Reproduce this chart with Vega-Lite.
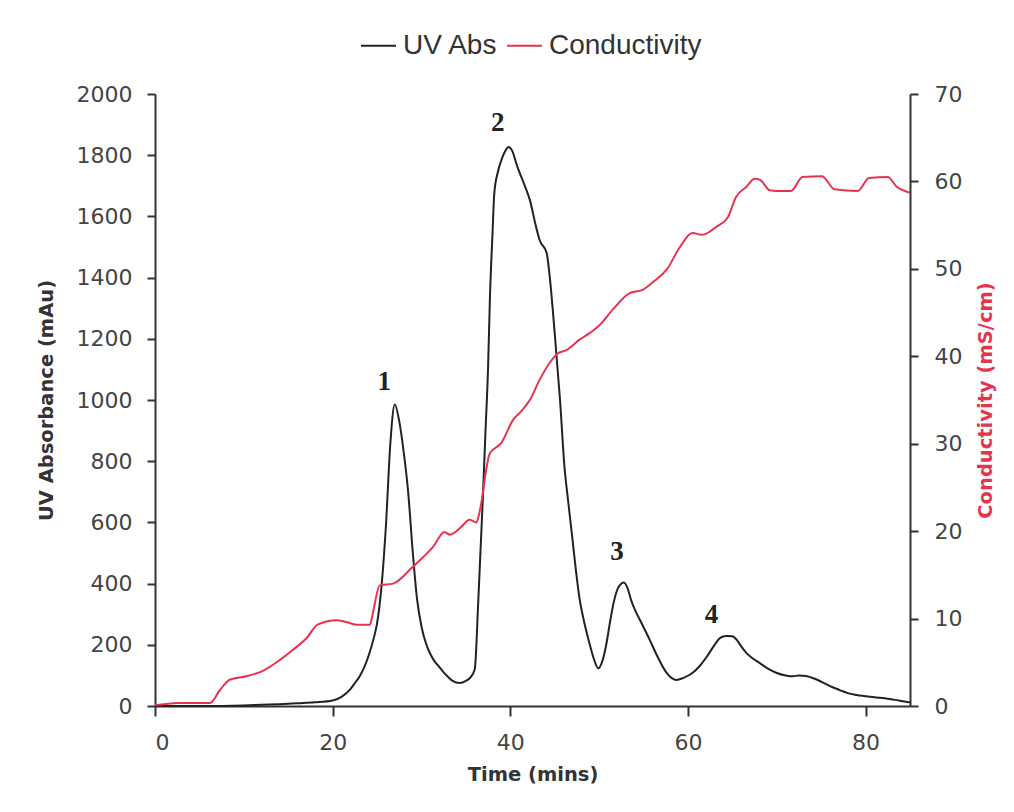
{
  "$schema": "https://vega.github.io/schema/vega-lite/v6.json",
  "autosize": {"type": "none"},
  "width": 755,
  "height": 612,
  "padding": {"left": 155, "top": 94, "right": 104, "bottom": 106},
  "background": "#ffffff",
  "config": {
    "view": {"stroke": null},
    "axis": {
      "grid": false,
      "domainColor": "#333333",
      "domainWidth": 2,
      "tickColor": "#333333",
      "tickWidth": 2,
      "tickSize": 8,
      "labelFont": "DejaVu Sans",
      "labelFontSize": 22,
      "labelColor": "#444444",
      "titleFont": "DejaVu Sans",
      "titleFontWeight": "bold",
      "titleFontSize": 19.5,
      "titleColor": "#333333"
    }
  },
  "datasets": {
    "uv": [
      {"t": 0, "v": 0}, {"t": 5, "v": 0}, {"t": 10, "v": 2}, {"t": 12, "v": 4}, {"t": 14, "v": 6},
      {"t": 16, "v": 9}, {"t": 18, "v": 12}, {"t": 20, "v": 18}, {"t": 21, "v": 30}, {"t": 22, "v": 55},
      {"t": 22.5, "v": 75}, {"t": 23, "v": 95}, {"t": 24, "v": 160}, {"t": 24.7, "v": 230}, {"t": 25, "v": 270},
      {"t": 25.5, "v": 390}, {"t": 26, "v": 590}, {"t": 26.5, "v": 860}, {"t": 27, "v": 985}, {"t": 27.5, "v": 930},
      {"t": 28, "v": 830}, {"t": 28.5, "v": 700}, {"t": 29, "v": 510}, {"t": 29.5, "v": 350}, {"t": 30, "v": 260},
      {"t": 30.5, "v": 205}, {"t": 31, "v": 170}, {"t": 31.5, "v": 145}, {"t": 32, "v": 128}, {"t": 32.5, "v": 110},
      {"t": 33, "v": 95}, {"t": 33.5, "v": 82}, {"t": 34.3, "v": 75}, {"t": 35, "v": 82}, {"t": 35.5, "v": 93},
      {"t": 36, "v": 120}, {"t": 36.4, "v": 346}, {"t": 36.9, "v": 673}, {"t": 37.2, "v": 892}, {"t": 37.5, "v": 1108},
      {"t": 37.7, "v": 1327}, {"t": 38, "v": 1546}, {"t": 38.2, "v": 1676}, {"t": 38.6, "v": 1745}, {"t": 39, "v": 1784},
      {"t": 39.4, "v": 1812}, {"t": 39.8, "v": 1827}, {"t": 40.2, "v": 1815}, {"t": 40.8, "v": 1762}, {"t": 41.5, "v": 1710},
      {"t": 42.2, "v": 1654}, {"t": 42.9, "v": 1566}, {"t": 43.3, "v": 1523}, {"t": 44.1, "v": 1480}, {"t": 44.4, "v": 1414},
      {"t": 45, "v": 1219}, {"t": 45.6, "v": 1000}, {"t": 46.1, "v": 781}, {"t": 46.5, "v": 673}, {"t": 47, "v": 545},
      {"t": 47.4, "v": 440}, {"t": 47.8, "v": 350}, {"t": 48.2, "v": 290}, {"t": 48.6, "v": 240}, {"t": 49, "v": 195},
      {"t": 49.4, "v": 155}, {"t": 49.9, "v": 123}, {"t": 50.4, "v": 150}, {"t": 50.8, "v": 200}, {"t": 51.2, "v": 270},
      {"t": 51.7, "v": 346}, {"t": 52.2, "v": 390}, {"t": 52.8, "v": 404}, {"t": 53.2, "v": 385}, {"t": 53.6, "v": 346},
      {"t": 54.1, "v": 310}, {"t": 54.6, "v": 281}, {"t": 55.7, "v": 216}, {"t": 56.6, "v": 160}, {"t": 57.6, "v": 108},
      {"t": 58.7, "v": 85}, {"t": 59.5, "v": 92}, {"t": 60.5, "v": 108}, {"t": 61.3, "v": 130}, {"t": 62.1, "v": 160},
      {"t": 63, "v": 200}, {"t": 63.6, "v": 222}, {"t": 64.3, "v": 229}, {"t": 65, "v": 228}, {"t": 65.5, "v": 216},
      {"t": 66, "v": 195}, {"t": 66.6, "v": 173}, {"t": 67.3, "v": 155}, {"t": 68.1, "v": 140}, {"t": 69, "v": 122},
      {"t": 70, "v": 108}, {"t": 71, "v": 100}, {"t": 71.8, "v": 97}, {"t": 72.5, "v": 100}, {"t": 73.3, "v": 98},
      {"t": 74.2, "v": 90}, {"t": 75.1, "v": 78}, {"t": 76, "v": 65}, {"t": 77.1, "v": 52}, {"t": 78, "v": 42},
      {"t": 79, "v": 36}, {"t": 80.5, "v": 30}, {"t": 81.9, "v": 26}, {"t": 83.3, "v": 20}, {"t": 84.7, "v": 13},
      {"t": 85, "v": 12}
    ],
    "cond": [
      {"t": 0, "v": 0.1}, {"t": 1, "v": 0.2}, {"t": 2.5, "v": 0.35}, {"t": 6.2, "v": 0.35}, {"t": 7.3, "v": 1.8},
      {"t": 8.4, "v": 3.0}, {"t": 10.3, "v": 3.4}, {"t": 12.1, "v": 4.0}, {"t": 14.1, "v": 5.3}, {"t": 15.5, "v": 6.4},
      {"t": 17.1, "v": 7.8}, {"t": 18.3, "v": 9.3}, {"t": 20.5, "v": 9.8}, {"t": 21.9, "v": 9.5}, {"t": 22.7, "v": 9.3},
      {"t": 24.2, "v": 9.3}, {"t": 24.5, "v": 10.5}, {"t": 25.3, "v": 13.8}, {"t": 26.8, "v": 14.0}, {"t": 29, "v": 15.9},
      {"t": 31.3, "v": 18.2}, {"t": 32.6, "v": 19.9}, {"t": 33.2, "v": 19.6}, {"t": 34.5, "v": 20.5}, {"t": 35.4, "v": 21.3},
      {"t": 36.2, "v": 21.0}, {"t": 36.5, "v": 22.0}, {"t": 36.8, "v": 23.6}, {"t": 37.2, "v": 26.5}, {"t": 37.7, "v": 28.9},
      {"t": 39, "v": 30.1}, {"t": 40.3, "v": 32.7}, {"t": 41.3, "v": 33.8}, {"t": 42.2, "v": 35.0}, {"t": 43.3, "v": 37.3},
      {"t": 44.4, "v": 39.2}, {"t": 45.3, "v": 40.3}, {"t": 46.3, "v": 40.7}, {"t": 47.8, "v": 41.9}, {"t": 49, "v": 42.7},
      {"t": 50.1, "v": 43.6}, {"t": 51.5, "v": 45.3}, {"t": 53.4, "v": 47.2}, {"t": 54.9, "v": 47.6}, {"t": 56.2, "v": 48.6},
      {"t": 57.6, "v": 49.9}, {"t": 59.1, "v": 52.5}, {"t": 60.5, "v": 54.1}, {"t": 61.6, "v": 53.9}, {"t": 63.2, "v": 54.8},
      {"t": 64.5, "v": 55.9}, {"t": 65.4, "v": 58.2}, {"t": 66.6, "v": 59.4}, {"t": 67.5, "v": 60.3}, {"t": 68.1, "v": 60.2},
      {"t": 69.2, "v": 59.0}, {"t": 70.5, "v": 58.9}, {"t": 71.6, "v": 58.9}, {"t": 72.9, "v": 60.5}, {"t": 75.1, "v": 60.6},
      {"t": 76.5, "v": 59.1}, {"t": 79.1, "v": 58.9}, {"t": 80.4, "v": 60.4}, {"t": 82.5, "v": 60.5}, {"t": 83.5, "v": 59.4},
      {"t": 84.7, "v": 58.8}, {"t": 85, "v": 58.7}
    ],
    "peaks": [
      {"t": 25.8, "v": 1059, "label": "1"},
      {"t": 38.6, "v": 1905, "label": "2"},
      {"t": 52.0, "v": 503, "label": "3"},
      {"t": 62.65, "v": 297, "label": "4"}
    ]
  },
  "layer": [
    {
      "data": {"name": "uv"},
      "mark": {"type": "line", "strokeWidth": 2, "interpolate": "monotone"},
      "encoding": {
        "x": {"field": "t", "type": "quantitative", "scale": {"domain": [0, 85], "nice": false},
              "axis": {"title": "Time (mins)", "values": [0, 20, 40, 60, 80], "format": "d", "tickSize": 10, "labelPadding": 16, "titlePadding": 12}},
        "y": {"field": "v", "type": "quantitative", "scale": {"domain": [0, 2000], "nice": false},
              "axis": {"title": "UV Absorbance (mAu)", "format": "d", "values": [0, 200, 400, 600, 800, 1000, 1200, 1400, 1600, 1800, 2000], "labelPadding": 15, "titlePadding": 20}},
        "color": {"datum": "UV Abs", "type": "nominal",
                  "scale": {"domain": ["UV Abs", "Conductivity"], "range": ["#222222", "#e8334f"]},
                  "legend": {"title": null, "orient": "none", "legendX": 205, "legendY": -67, "direction": "horizontal",
                             "symbolType": "stroke", "symbolSize": 1225, "symbolStrokeWidth": 2,
                             "labelFont": "Liberation Sans", "labelFontSize": 28, "labelColor": "#333333",
                             "labelOffset": 6, "columnPadding": 5, "padding": 0}}
      }
    },
    {
      "data": {"name": "peaks"},
      "mark": {"type": "text", "font": "Liberation Serif", "fontWeight": "bold", "fontSize": 27, "color": "#222222", "baseline": "middle", "align": "center"},
      "encoding": {
        "x": {"field": "t", "type": "quantitative"},
        "y": {"field": "v", "type": "quantitative", "scale": {"domain": [0, 2000], "nice": false}, "axis": null},
        "text": {"field": "label"}
      }
    },
    {
      "data": {"name": "cond"},
      "mark": {"type": "line", "strokeWidth": 2, "interpolate": "monotone"},
      "encoding": {
        "x": {"field": "t", "type": "quantitative"},
        "y": {"field": "v", "type": "quantitative", "scale": {"domain": [0, 70], "nice": false},
              "axis": {"orient": "right", "title": "Conductivity (mS/cm)", "titleColor": "#e8334f", "titleAngle": 270,
                       "format": "d", "values": [0, 10, 20, 30, 40, 50, 60, 70], "labelPadding": 16, "titlePadding": 34}},
        "color": {"datum": "Conductivity", "type": "nominal"}
      }
    }
  ],
  "resolve": {"scale": {"y": "independent"}}
}
